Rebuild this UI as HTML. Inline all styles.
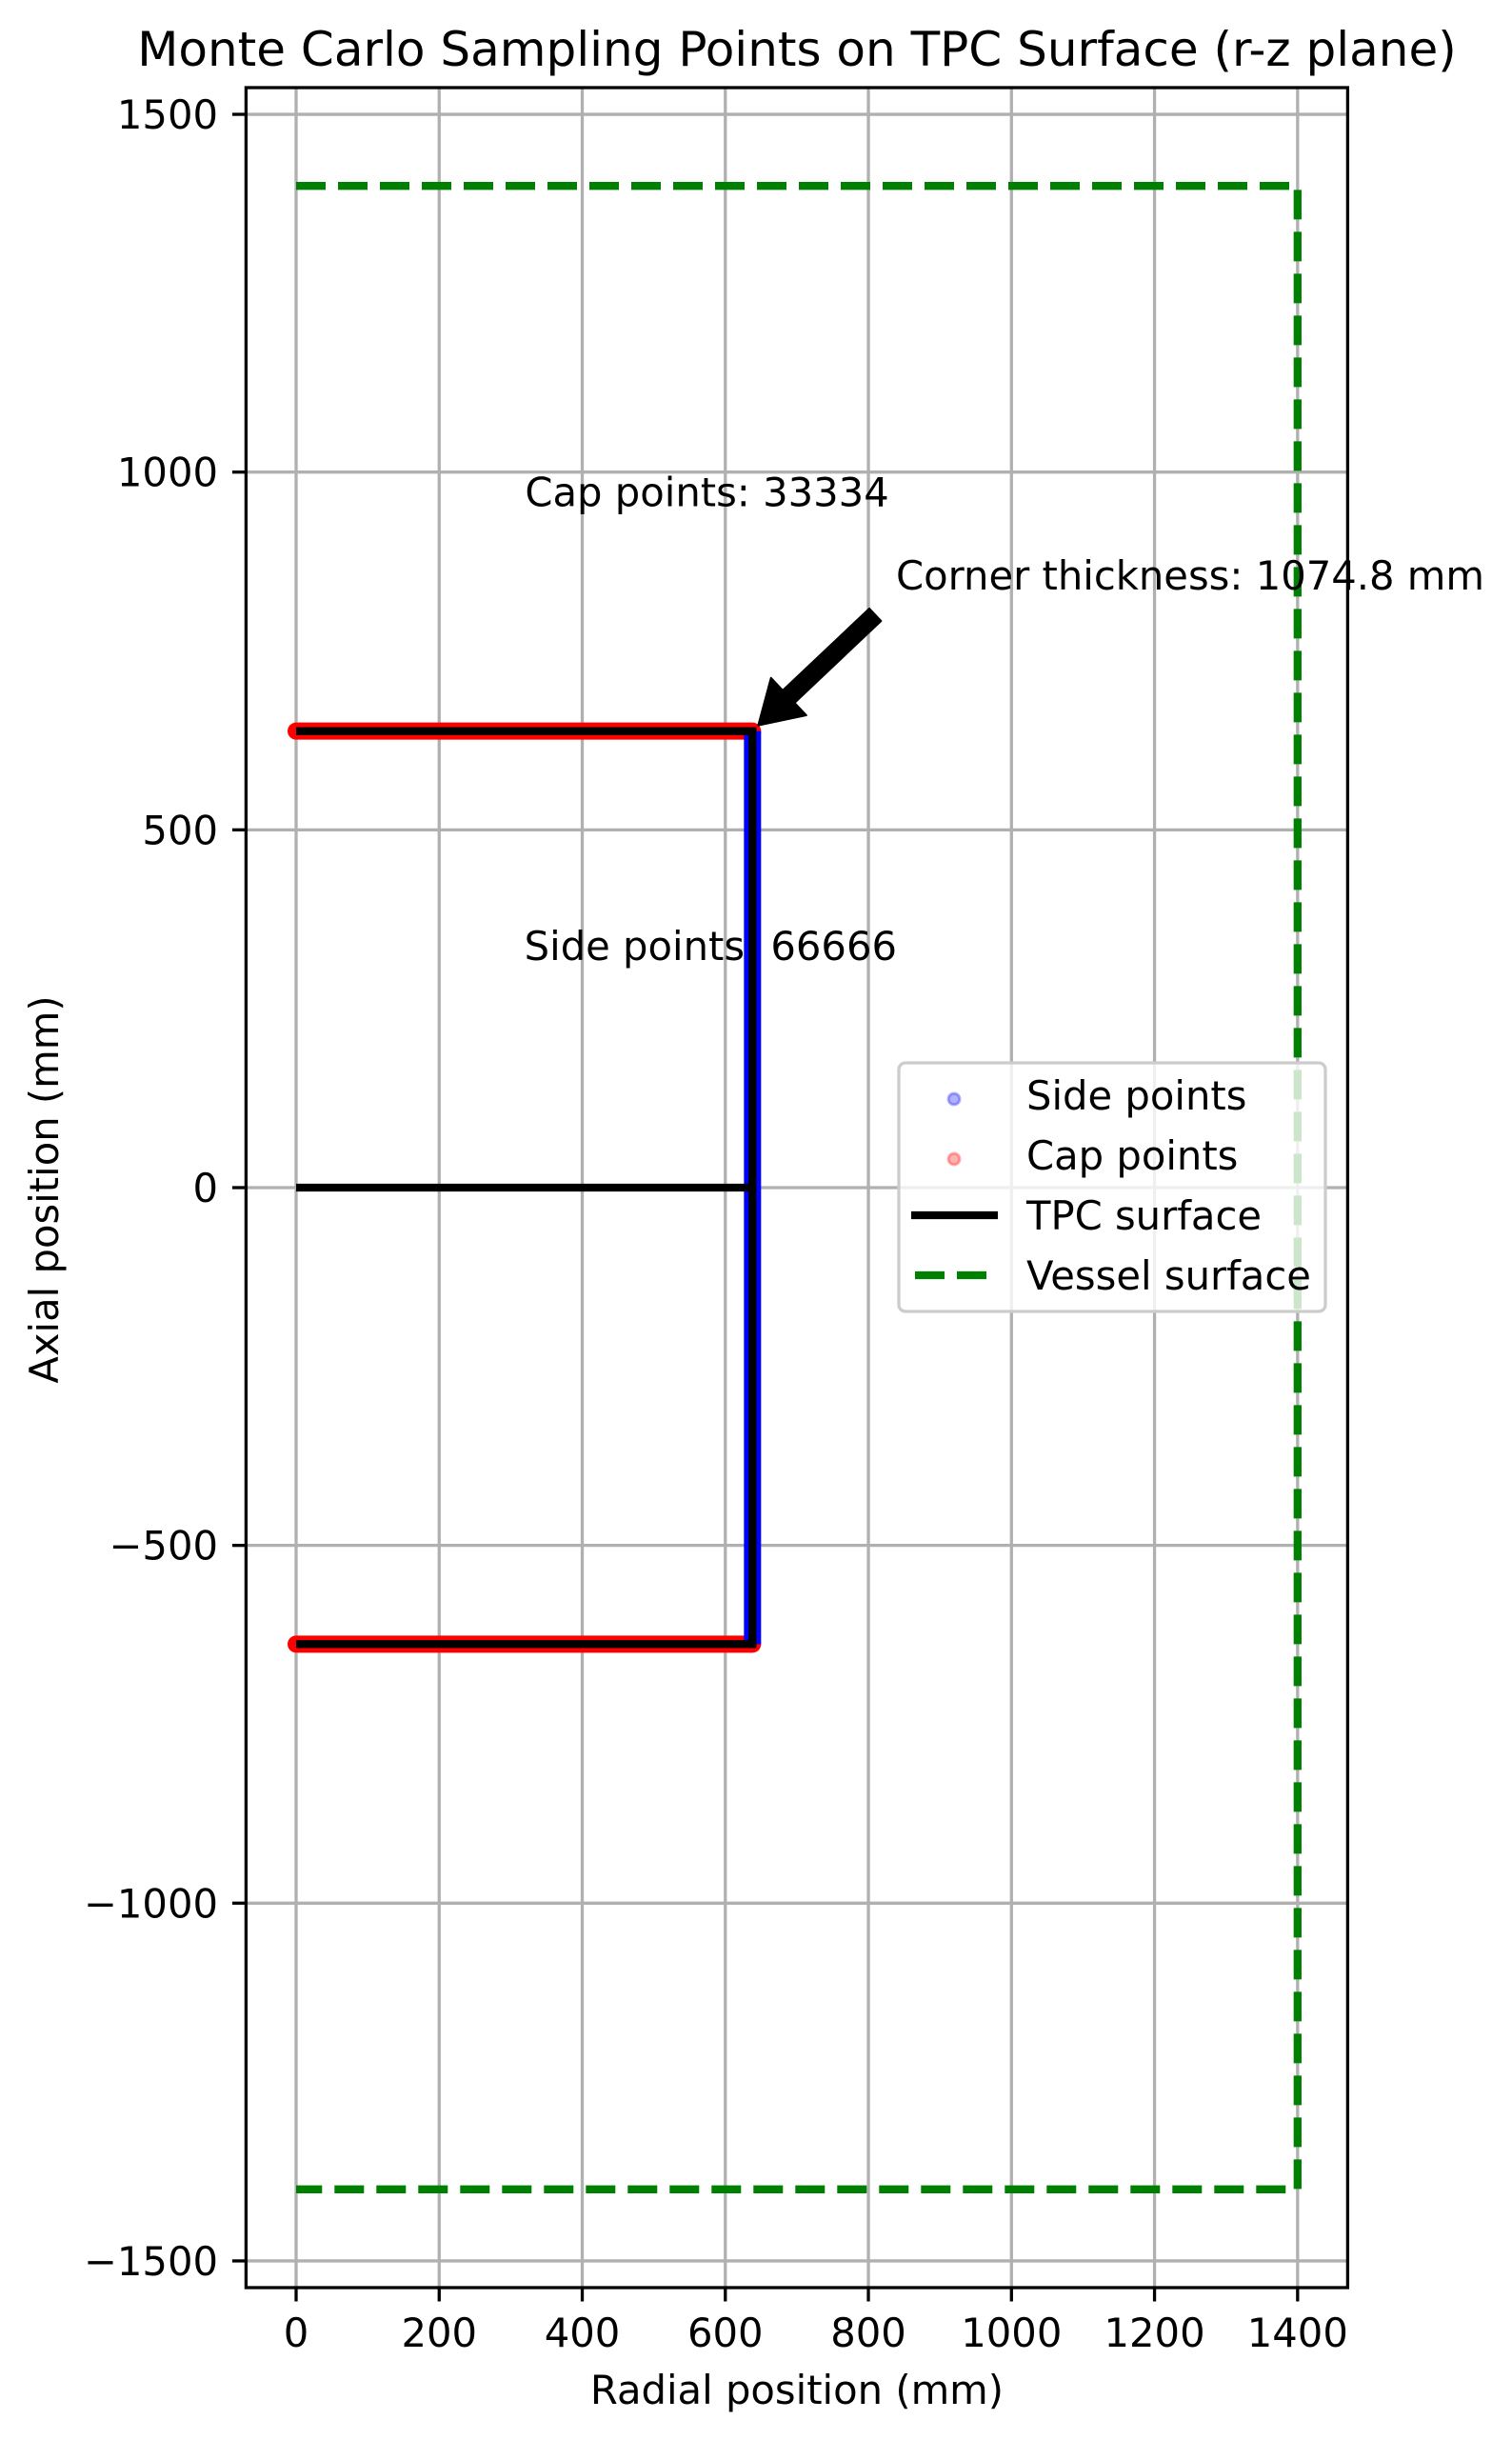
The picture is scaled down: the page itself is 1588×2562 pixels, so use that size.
<!DOCTYPE html>
<html><head><meta charset="utf-8">
<style>html,body{margin:0;padding:0;background:#fff}svg{display:block}text{font-family:"DejaVu Sans","Liberation Sans",sans-serif;fill:#000}</style>
</head><body>
<svg id="chart" width="1588" height="2562" viewBox="0 0 1588 2562"></svg>
<script>
const xTicks=[0,200,400,600,800,1000,1200,1400];
const yTicks=[-1500,-1000,-500,0,500,1000,1500];
const yTickLabels=["\u22121500","\u22121000","\u2212500","0","500","1000","1500"];
const tpcR=[0,638,638,0];
const tpcZ=[638,638,-638,-638];
const midR=[0,638];
const midZ=[0,0];
const vesselR=[0,1400,1400,0];
const vesselZ=[1400,1400,-1400,-1400];
const capR=[0,638];
const capZtop=[638,638];
const capZbot=[-638,-638];
const sideR=[638,638];
const sideZ=[-638,638];
const annotations=[["Cap points: 33334",320,972],["Side points: 66666",319,338]];

const NS="http://www.w3.org/2000/svg";
const svg=document.getElementById('chart');
const L=258.4,R=1415.4,T=92,B=2402;
function X(v){return 311+v*0.7513;}
function Y(v){return 1247-v*0.7513;}
function mk(tag,attrs,parent){const e=document.createElementNS(NS,tag);for(const k in attrs)e.setAttribute(k,attrs[k]);(parent||svg).appendChild(e);return e;}
function pts(xs,ys){return xs.map((x,i)=>X(x)+','+Y(ys[i])).join(' ');}

xTicks.forEach(t=>{const g=mk('line',{x1:X(t),x2:X(t),y1:T,y2:B,stroke:'#b0b0b0','stroke-width':3.3});

});
yTicks.forEach(t=>{const g=mk('line',{x1:L,x2:R,y1:Y(t),y2:Y(t),stroke:'#b0b0b0','stroke-width':3.3});

});

const cs1=mk('polyline',{points:pts(capR,capZtop),fill:'none',stroke:'#ff0000','stroke-width':18,'stroke-linecap':'round'});


const cs2=mk('polyline',{points:pts(capR,capZbot),fill:'none',stroke:'#ff0000','stroke-width':18,'stroke-linecap':'round'});


const ss=mk('polyline',{points:pts(sideR,sideZ),fill:'none',stroke:'#0000ff','stroke-width':18});



const tp=mk('polyline',{points:pts(tpcR,tpcZ),fill:'none',stroke:'#000','stroke-width':8.3});


const md=mk('polyline',{points:pts(midR,midZ),fill:'none',stroke:'#000','stroke-width':8.3});



const vs=mk('polyline',{points:pts(vesselR,vesselZ),fill:'none',stroke:'#008000','stroke-width':8.3,'stroke-dasharray':'31 13'});



const fr=mk('rect',{x:L,y:T,width:R-L,height:B-T,fill:'none',stroke:'#000','stroke-width':3.3});



xTicks.forEach(t=>{const tk=mk('line',{x1:X(t),x2:X(t),y1:B,y2:B+14.5,stroke:'#000','stroke-width':3.3});


const lb=mk('text',{x:X(t),y:2464,'text-anchor':'middle','font-size':41.7});lb.textContent=String(t);

});
yTicks.forEach((t,i)=>{const tk=mk('line',{x1:L-14.5,x2:L,y1:Y(t),y2:Y(t),stroke:'#000','stroke-width':3.3});


const lb=mk('text',{x:229,y:Y(t)+15,'text-anchor':'end','font-size':41.7});lb.textContent=yTickLabels[i];

});

annotations.forEach(a=>{const t=mk('text',{x:X(a[1]),y:Y(a[2])+15,'font-size':41.7});t.textContent=a[0];

});
const ct=mk('text',{x:941,y:619,'font-size':41.7});ct.textContent='Corner thickness: 1074.8 mm';


(function(){const x1=925,y1=640,x2=X(638)+6,y2=Y(638)-6;const dx=x2-x1,dy=y2-y1,len=Math.hypot(dx,dy);const ux=dx/len,uy=dy/len,px=-uy,py=ux;
const sx=x1+ux*8,sy=y1+uy*8;const hl=44,sw=9,hw=27;const bx=x2-ux*hl,by=y2-uy*hl;
const p=[[sx+px*sw,sy+py*sw],[bx+px*sw,by+py*sw],[bx+px*hw,by+py*hw],[x2,y2],[bx-px*hw,by-py*hw],[bx-px*sw,by-py*sw],[sx-px*sw,sy-py*sw]];
const ar=mk('polygon',{points:p.map(q=>q.join(',')).join(' '),fill:'#000',stroke:'#000','stroke-width':2,'stroke-linejoin':'round'});

})();

const lg=mk('g',{});


mk('rect',{x:944,y:1116,width:448,height:261,rx:7,fill:'#fff','fill-opacity':0.8,stroke:'#cccccc','stroke-width':3.3},lg);
const e1=mk('circle',{cx:1002,cy:1154,r:6,fill:'#0000ff','fill-opacity':0.3,stroke:'#0000ff','stroke-opacity':0.3,'stroke-width':3},lg);


const e2=mk('circle',{cx:1002,cy:1217,r:6,fill:'#ff0000','fill-opacity':0.3,stroke:'#ff0000','stroke-opacity':0.3,'stroke-width':3},lg);


const e3=mk('line',{x1:957,x2:1048,y1:1276,y2:1276,stroke:'#000','stroke-width':8.3},lg);


const e4=mk('line',{x1:961,x2:1036,y1:1339,y2:1339,stroke:'#008000','stroke-width':8.3,'stroke-dasharray':'31 13'},lg);


[['Side points',1165],['Cap points',1228],['TPC surface',1291],['Vessel surface',1354]].forEach(a=>{const t=mk('text',{x:1078,y:a[1],'font-size':41.7},lg);t.textContent=a[0];

});

const ti=mk('text',{x:837,y:69,'text-anchor':'middle','font-size':50});ti.textContent='Monte Carlo Sampling Points on TPC Surface (r-z plane)';


const xl=mk('text',{x:837,y:2524,'text-anchor':'middle','font-size':41.7});xl.textContent='Radial position (mm)';


const yl=mk('text',{x:0,y:0,'text-anchor':'middle','font-size':41.7,transform:'translate(61,1249) rotate(-90)'});yl.textContent='Axial position (mm)';


</script>
</body></html>
